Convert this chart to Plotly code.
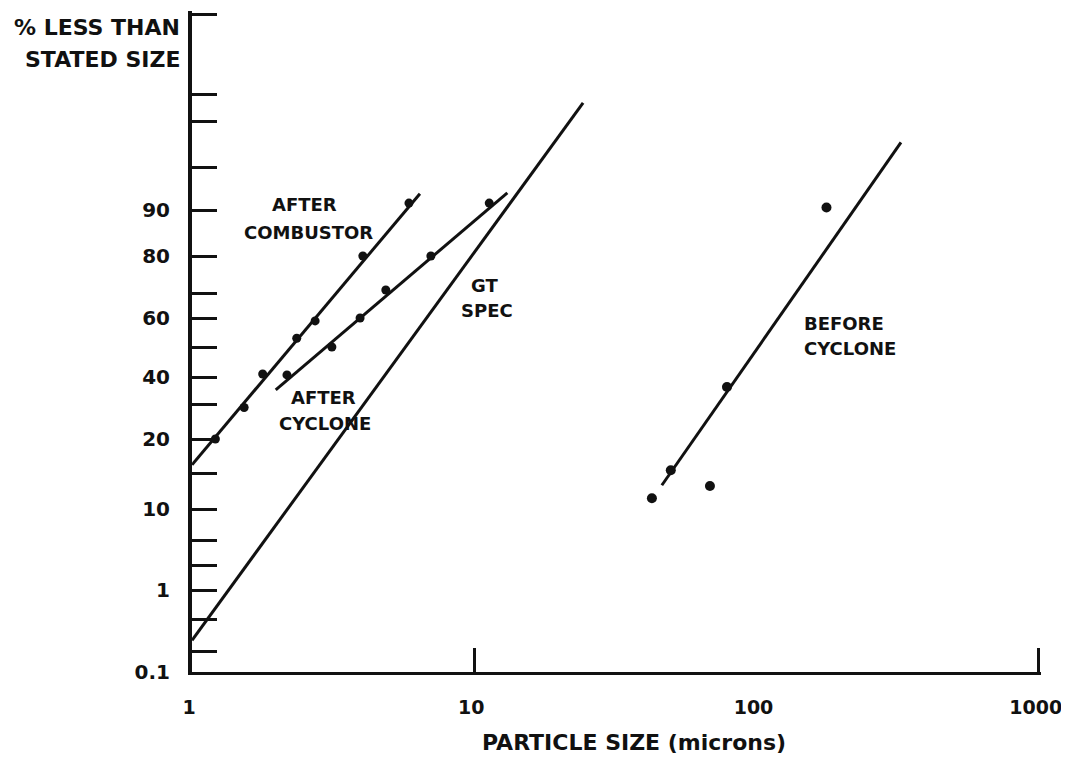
import numpy as np
import plotly.graph_objects as go

# ---- probability-type y scale (as drawn on the chart) ----
tick_pct = [0.1, 0.2, 0.5, 1, 2, 5, 10, 15, 20, 30, 40, 50, 60, 70, 80, 90, 95, 98, 99, 99.9]
tick_pos = [0, 21, 53, 82, 107, 132, 163, 199, 233, 268, 295, 325, 354, 379, 416, 462, 505, 551, 578, 658]
tick_text = ["0.1", "", "", "1", "", "", "10", "", "20", "", "40", "", "60", "", "80", "90", "", "", "", ""]

x_tickvals = [1, 10, 100, 1000]
x_ticktext = ["1", "10", "100", "1000"]

# ---- data (particle size in microns, % less than size) ----
comb_size = [1.21, 1.53, 1.78, 2.35, 2.73, 4.03, 5.87]
comb_pct = [20, 29, 41, 53, 59, 80, 90.8]
comb_fit_size = [1.0, 6.42]
comb_fit_pct = [16.2, 91.9]

cyc_size = [2.17, 3.13, 3.94, 4.86, 7.02, 11.3]
cyc_pct = [40.7, 50, 60, 70.8, 80, 90.8]
cyc_fit_size = [1.98, 13.1]
cyc_fit_pct = [35.2, 92.0]

gt_size = [1.0, 24.3]
gt_pct = [0.30, 98.67]

bc_size = [42.6, 49.7, 68.4, 78.6, 177]
bc_pct = [11.5, 15.4, 13.2, 36.3, 90.3]
bc_fit_size = [46.2, 325]
bc_fit_pct = [13.3, 96.6]


def to_scale(pct):
    return np.interp(pct, tick_pct, tick_pos)


FONT = "DejaVu Sans"
BLACK = "#111111"

fig = go.Figure()


def add_line(xs, ps):
    fig.add_trace(go.Scatter(x=xs, y=to_scale(ps), mode="lines",
                             line=dict(color=BLACK, width=3), showlegend=False,
                             hoverinfo="skip"))


def add_pts(xs, ps, size=9):
    fig.add_trace(go.Scatter(x=xs, y=to_scale(ps), mode="markers",
                             marker=dict(color=BLACK, size=size), showlegend=False))


add_line(comb_fit_size, comb_fit_pct)
add_pts(comb_size, comb_pct)
add_line(cyc_fit_size, cyc_fit_pct)
add_pts(cyc_size, cyc_pct)
add_line(gt_size, gt_pct)
add_line(bc_fit_size, bc_fit_pct)
add_pts(bc_size, bc_pct, size=10)

# invisible trace to carry the tick-mark axis
fig.add_trace(go.Scatter(x=[10], y=[0], xaxis="x2", yaxis="y", mode="markers",
                         marker=dict(opacity=0), showlegend=False, hoverinfo="skip"))

lab_font = dict(family=FONT, size=18, color=BLACK, weight="bold")
labels = [
    ("AFTER", 0.3985, 468, "center"),
    ("COMBUSTOR", 0.4145, 440, "center"),
    ("AFTER", 0.4676, 275, "center"),
    ("CYCLONE", 0.471, 249, "center"),
    ("GT", 1.038, 387, "center"),
    ("SPEC", 1.045, 362, "center"),
    ("BEFORE", 2.161, 349, "left"),
    ("CYCLONE", 2.161, 324, "left"),
]
for txt, lx, ly, anc in labels:
    fig.add_annotation(x=lx, y=ly, xref="x", yref="y", text=txt, showarrow=False,
                       xanchor=anc, yanchor="middle", font=lab_font)

# plot area geometry (page pixels): x=1 at 192, ~282.3 px per decade; y from 11 to 672
PW = 849.2
PH = 661.0
title_font = dict(family=FONT, size=22, color=BLACK, weight="bold")
fig.add_annotation(x=-10 / PW, y=(672 - 27) / PH, xref="paper", yref="paper",
                   text="% LESS THAN", showarrow=False, xanchor="right",
                   yanchor="middle", font=title_font)
fig.add_annotation(x=-10 / PW, y=(672 - 60) / PH, xref="paper", yref="paper",
                   text="STATED SIZE", showarrow=False, xanchor="right",
                   yanchor="middle", font=title_font)
fig.add_annotation(x=(634 - 192) / PW, y=(672 - 742) / PH, xref="paper", yref="paper",
                   text="PARTICLE SIZE (microns)", showarrow=False, xanchor="center",
                   yanchor="middle", font=title_font)

tick_font = dict(family=FONT, size=20, color=BLACK, weight="bold")
xtick_font = dict(family=FONT, size=19, color=BLACK, weight="bold")

XR = [0, 3.008]
# the page body adds an 8px offset, so the figure is shifted back by 8px
fig.update_layout(
    width=1061, height=755,
    margin=dict(l=184, r=1061 - 184 - PW, t=3, b=91),
    paper_bgcolor="white", plot_bgcolor="white",
    showlegend=False,
    xaxis=dict(type="log", range=XR, tickmode="array", tickvals=x_tickvals,
               ticktext=x_ticktext, ticks="", showgrid=False, zeroline=False,
               showline=True, linecolor=BLACK, linewidth=3, tickfont=xtick_font,
               ticklabelstandoff=16, ticklabelshift=-3),
    xaxis2=dict(type="log", range=XR, overlaying="x", anchor="y", side="bottom",
                tickmode="array", tickvals=[10, 1000], ticks="inside", ticklen=24,
                tickwidth=3, tickcolor=BLACK, showticklabels=False, showgrid=False,
                zeroline=False, showline=False),
    yaxis=dict(range=[0, 661], tickmode="array", tickvals=tick_pos, ticktext=tick_text,
               ticks="inside", ticklen=25, tickwidth=3, tickcolor=BLACK,
               showgrid=False, zeroline=False, showline=True, linecolor=BLACK,
               linewidth=4, tickfont=tick_font, ticklabelstandoff=14),
)

fig.write_html("out.html")
